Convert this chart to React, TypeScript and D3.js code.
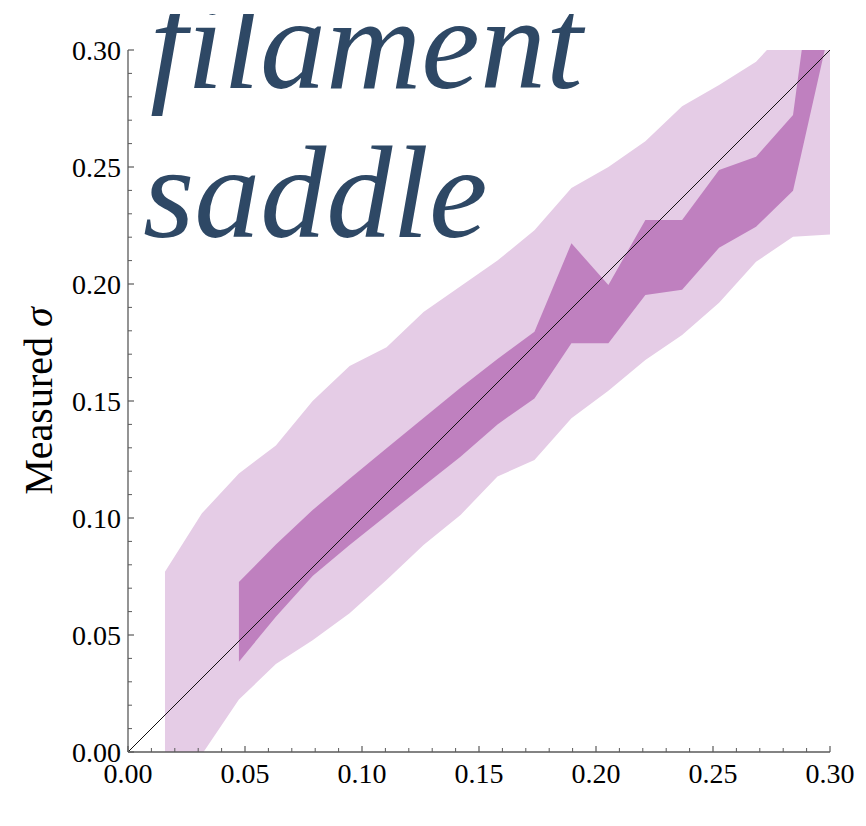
import React from "react";
import * as d3 from "d3";

const xs = [0.0158, 0.0316, 0.0474, 0.0632, 0.0789, 0.0947, 0.1105, 0.1263, 0.1421, 0.1579, 0.1737, 0.1895, 0.2053, 0.2211, 0.2368, 0.2526, 0.2684, 0.2842, 0.3];
const lightUpper = [0.077, 0.102, 0.119, 0.131, 0.15, 0.165, 0.173, 0.188, 0.199, 0.21, 0.223, 0.241, 0.25, 0.261, 0.276, 0.285, 0.295, 0.312, 0.32];
const lightLower = [-0.03, -0.001, 0.0224, 0.0376, 0.0478, 0.0593, 0.0735, 0.0885, 0.1013, 0.1177, 0.1248, 0.1426, 0.1544, 0.1675, 0.1782, 0.192, 0.2095, 0.2202, 0.2212];
const darkXs = xs.slice(2);
const darkUpper = [0.0726, 0.0887, 0.1034, 0.1168, 0.1298, 0.1427, 0.1557, 0.168, 0.1796, 0.2174, 0.1996, 0.2274, 0.2274, 0.2487, 0.2544, 0.2722, 0.39];
const darkLower = [0.0386, 0.0578, 0.0752, 0.0885, 0.1011, 0.1137, 0.1262, 0.14, 0.1511, 0.1747, 0.1747, 0.1953, 0.1975, 0.2155, 0.2245, 0.2398, 0.31];
const identity = [0, 0.3];
const majorTicks = [0, 0.05, 0.1, 0.15, 0.2, 0.25, 0.3];
const minorTicks = [0.01, 0.02, 0.03, 0.04, 0.06, 0.07, 0.08, 0.09, 0.11, 0.12, 0.13, 0.14, 0.16, 0.17, 0.18, 0.19, 0.21, 0.22, 0.23, 0.24, 0.26, 0.27, 0.28, 0.29];
const titleLines = ["filament", "saddle"];
const yLabel = "Measured ";

export default function App() {
  const W = 866, H = 826;
  const x = d3.scaleLinear().domain([0, 0.3]).range([128, 830]);
  const y = d3.scaleLinear().domain([0, 0.3]).range([752, 50]);
  const fmt = d3.format(".2f");

  const lightArea = d3.area<number>()
    .x((_, i) => x(xs[i]))
    .y0((_, i) => y(lightLower[i]))
    .y1((d) => y(d));
  const darkArea = d3.area<number>()
    .x((_, i) => x(darkXs[i]))
    .y0((_, i) => y(darkLower[i]))
    .y1((d) => y(d));
  const line = d3.line<number>().x((d) => x(d)).y((d) => y(d));

  const axisColor = "#5a5a5a";
  const font = "'Liberation Serif', 'Times New Roman', serif";

  return (
    <svg width={W} height={H} style={{ position: "absolute", left: 0, top: 0, background: "#fff" }}>
      <defs>
        <clipPath id="plotClip">
          <rect x={x(0)} y={y(0.3)} width={x(0.3) - x(0)} height={y(0) - y(0.3)} />
        </clipPath>
        <clipPath id="titleClip">
          <rect x={0} y={14} width={W} height={H} />
        </clipPath>
      </defs>
      <g clipPath="url(#plotClip)">
        <path d={lightArea(lightUpper) || ""} fill="#e5cce6" />
        <path d={darkArea(darkUpper) || ""} fill="#bf80bf" />
        <path d={line(identity) || ""} stroke="#111" strokeWidth={1} fill="none" />
      </g>
      <line x1={x(0)} x2={x(0.3)} y1={y(0)} y2={y(0)} stroke={axisColor} strokeWidth={1.3} />
      <line x1={x(0)} x2={x(0)} y1={y(0)} y2={y(0.3)} stroke={axisColor} strokeWidth={1.3} />
      {majorTicks.map((t) => (
        <g key={"mx" + t}>
          <line x1={x(t)} x2={x(t)} y1={y(0)} y2={y(0) - 6} stroke={axisColor} strokeWidth={1.2} />
          <line x1={x(0)} x2={x(0) + 6} y1={y(t)} y2={y(t)} stroke={axisColor} strokeWidth={1.2} />
          <text x={x(t)} y={y(0) + 31} textAnchor="middle" fontFamily={font} fontSize={28} fill="#000">{fmt(t)}</text>
          <text x={x(0) - 7} y={y(t) + 10} textAnchor="end" fontFamily={font} fontSize={28} fill="#000">{fmt(t)}</text>
        </g>
      ))}
      {minorTicks.map((t) => (
        <g key={"mn" + t}>
          <line x1={x(t)} x2={x(t)} y1={y(0)} y2={y(0) - 4} stroke={axisColor} strokeWidth={1} />
          <line x1={x(0)} x2={x(0) + 4} y1={y(t)} y2={y(t)} stroke={axisColor} strokeWidth={1} />
        </g>
      ))}
      <text transform={`translate(52, ${(y(0) + y(0.3)) / 2}) rotate(-90)`} textAnchor="middle" fontFamily={font} fontSize={40} fill="#000">
        {yLabel}<tspan fontStyle="italic">σ</tspan>
      </text>
      <g clipPath="url(#titleClip)">
        <text x={150} y={88} fontFamily={font} fontStyle="italic" fontSize={132} fill="#2e4865">{titleLines[0]}</text>
        <text x={143} y={237} fontFamily={font} fontStyle="italic" fontSize={132} fill="#2e4865">{titleLines[1]}</text>
      </g>
    </svg>
  );
}
